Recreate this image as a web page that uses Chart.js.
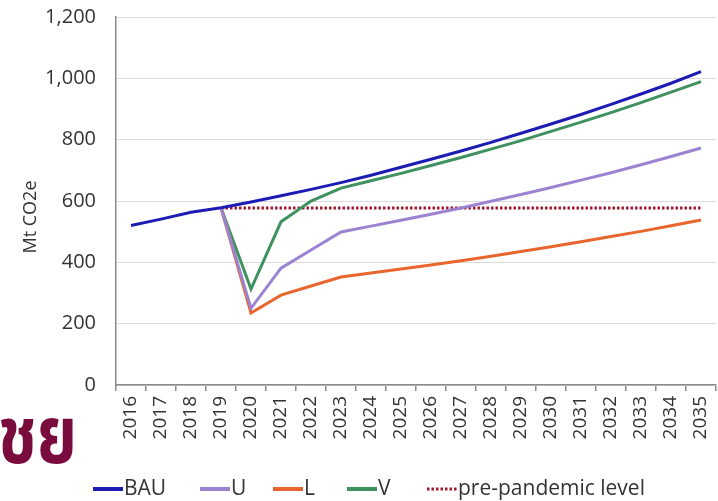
<!DOCTYPE html>
<html>
<head>
<meta charset="utf-8">
<script src="https://cdn.jsdelivr.net/npm/chart.js@4.4.0/dist/chart.umd.min.js"></script>
<style>
  html, body { margin: 0; padding: 0; background: #fff; }
  #wrap { position: relative; width: 718px; height: 501px; overflow: hidden; }
  #thai { position: absolute; left: -2px; top: 400px; font: bold 60px "Noto Sans Thai", "Noto Sans", "DejaVu Sans", sans-serif;
          color: #7a0b3d; line-height: 1; transform: scale(1.08, 1.32); transform-origin: 0 0; }
</style>
</head>
<body>
<div id="wrap">
  <canvas id="emissionsChart" width="718" height="501"></canvas>
  <div id="thai">ชย</div>
</div>
<script>
// Data
const years = ['2016', '2017', '2018', '2019', '2020', '2021', '2022', '2023', '2024', '2025',
               '2026', '2027', '2028', '2029', '2030', '2031', '2032', '2033', '2034', '2035'];
const bau = [520, 541, 563, 578, 597, 617, 638, 660, 684, 710, 736, 763, 791, 821, 851, 882, 915, 949, 984, 1022];
const scenU = [null, null, null, 578, 250, 381, 440, 499, 518, 537, 557, 577, 599, 621, 644, 668, 692, 718, 745, 773];
const scenL = [null, null, null, 578, 235, 293, 323, 352, 365, 378, 391, 405, 420, 435, 451, 467, 484, 501, 519, 538];
const scenV = [null, null, null, 578, 313, 532, 600, 642, 666, 690, 716, 742, 769, 797, 827, 857, 888, 921, 955, 989];
const prePandemic = [null, null, null, 577, 577, 577, 577, 577, 577, 577, 577, 577, 577, 577, 577, 577, 577, 577, 577, 577];
const yTitle = 'Mt CO2e';

const fontFamily = '"Open Sans", sans-serif';
const textColor = '#333';
const axisColor = '#8a8a8a';

// legend item left edges (px) and sample line length
const legendX = [93, 200, 273, 347, 427];
const legendY = 489;
const legendLine = 30;

const ctx = document.getElementById('emissionsChart').getContext('2d');

function lineSet(label, data, color, extra) {
  return Object.assign({
    label: label,
    data: data,
    borderColor: color,
    backgroundColor: color,
    borderWidth: 3,
    pointRadius: 0,
    tension: 0,
    fill: false
  }, extra || {});
}

// draws the legend row under the axis, and the y title a bit below centre like the original
const extras = {
  id: 'extras',
  afterDraw(chart) {
    const c = chart.ctx;
    c.save();
    c.font = '21px ' + fontFamily;
    c.textBaseline = 'middle';
    c.fillStyle = textColor;
    chart.data.datasets.forEach((ds, i) => {
      const x = legendX[i];
      c.beginPath();
      c.strokeStyle = ds.borderColor;
      c.lineWidth = ds.borderDash ? 3 : 4;
      c.setLineDash(ds.borderDash || []);
      c.moveTo(x, legendY);
      c.lineTo(x + legendLine, legendY);
      c.stroke();
      c.setLineDash([]);
      c.fillText(ds.label, x + legendLine + 1, legendY);
    });
    // y axis title
    c.translate(31, 217);
    c.rotate(-Math.PI / 2);
    c.textAlign = 'center';
    c.font = '18px ' + fontFamily;
    c.fillText(yTitle, 0, 0);
    c.restore();
  }
};

const chart = new Chart(ctx, {
  type: 'line',
  data: {
    labels: years,
    datasets: [
      lineSet('BAU', bau, '#1c1cb4'),
      lineSet('U', scenU, '#9c83d2'),
      lineSet('L', scenL, '#e8662e'),
      lineSet('V', scenV, '#3f9160'),
      lineSet('pre-pandemic level', prePandemic, '#a3182c', { borderWidth: 3, borderDash: [2.5, 2] })
    ]
  },
  options: {
    responsive: false,
    animation: false,
    layout: { padding: { left: 0, right: 2, top: 17, bottom: 30 } },
    plugins: {
      legend: { display: false },
      tooltip: { enabled: false }
    },
    scales: {
      x: {
        offset: true,
        grid: { offset: true, drawOnChartArea: false, drawTicks: true, tickLength: 6, color: axisColor, lineWidth: 1.5 },
        border: { color: axisColor, width: 1.5 },
        ticks: { autoSkip: false, maxRotation: 90, minRotation: 90, color: textColor, padding: 5, font: { family: fontFamily, size: 19 } },
        afterFit: function (scale) {
          scale.height = 86;
          scale.paddingLeft = 0;
          scale.paddingRight = 0;
        }
      },
      y: {
        min: 0,
        max: 1200,
        ticks: { stepSize: 200, color: textColor, padding: 20, font: { family: fontFamily, size: 20 } },
        grid: { color: '#dcdcdc', lineWidth: 1, drawTicks: false },
        border: { display: true, color: axisColor, width: 1.5 },
        afterFit: function (scale) {
          scale.width = 116;
          scale.paddingTop = 0;
          scale.paddingBottom = 0;
        }
      }
    }
  },
  plugins: [extras]
});
</script>
</body>
</html>
